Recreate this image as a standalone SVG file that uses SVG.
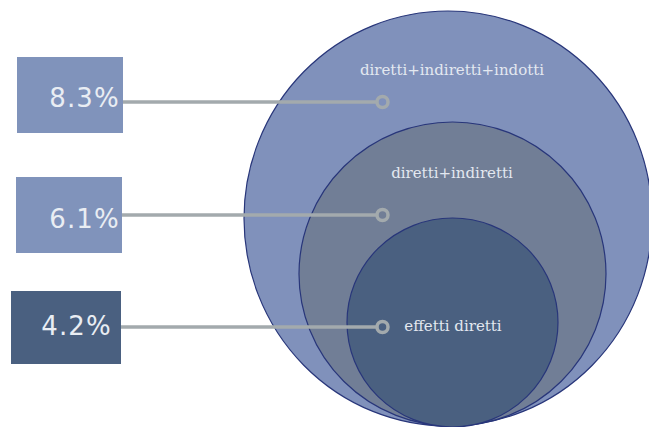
<svg xmlns="http://www.w3.org/2000/svg" width="649" height="427" viewBox="0 0 649 427">
<style>
.lbl{font-family:"DejaVu Serif","Liberation Serif",serif;font-size:15px;fill:#e3e8f0;text-anchor:middle}
.pct{font-family:"DejaVu Sans","Liberation Sans",sans-serif;font-size:26px;letter-spacing:1.2px;fill:#e9edf3;text-anchor:end}
.ring{stroke:#28367a;stroke-width:1.2}
.conn{stroke:#a3aaad;stroke-width:3.5;fill:none}
</style>
<rect width="649" height="427" fill="#ffffff"/>
<g id="outer"><ellipse class="ring" cx="448" cy="218.5" rx="204" ry="207.5" fill="#8091bb"/><text class="lbl" x="452" y="75">diretti+indiretti+indotti</text></g>
<g id="middle"><ellipse class="ring" cx="452.5" cy="274" rx="153.5" ry="152" fill="#717e96"/><text class="lbl" x="452" y="178">diretti+indiretti</text></g>
<g id="inner"><ellipse class="ring" cx="452.5" cy="322.5" rx="105.5" ry="104.5" fill="#4a6080"/><text class="lbl" x="453" y="331">effetti diretti</text></g>
<g id="box1"><rect x="17" y="57" width="106" height="76" fill="#8093bb"/><text class="pct" x="120" y="107">8.3%</text></g>
<g id="box2"><rect x="16" y="177" width="106" height="76" fill="#8093bb"/><text class="pct" x="120" y="228">6.1%</text></g>
<g id="box3"><rect x="11" y="291" width="110" height="73" fill="#4a6080"/><text class="pct" x="112" y="335">4.2%</text></g>
<g id="connectors">
<path class="conn" d="M123 102H376"/><circle class="conn" cx="382.5" cy="102" r="5.5"/>
<path class="conn" d="M122 215H376"/><circle class="conn" cx="382.5" cy="215" r="5.5"/>
<path class="conn" d="M121 327H376"/><circle class="conn" cx="382.5" cy="327" r="5.5"/>
</g>
</svg>
